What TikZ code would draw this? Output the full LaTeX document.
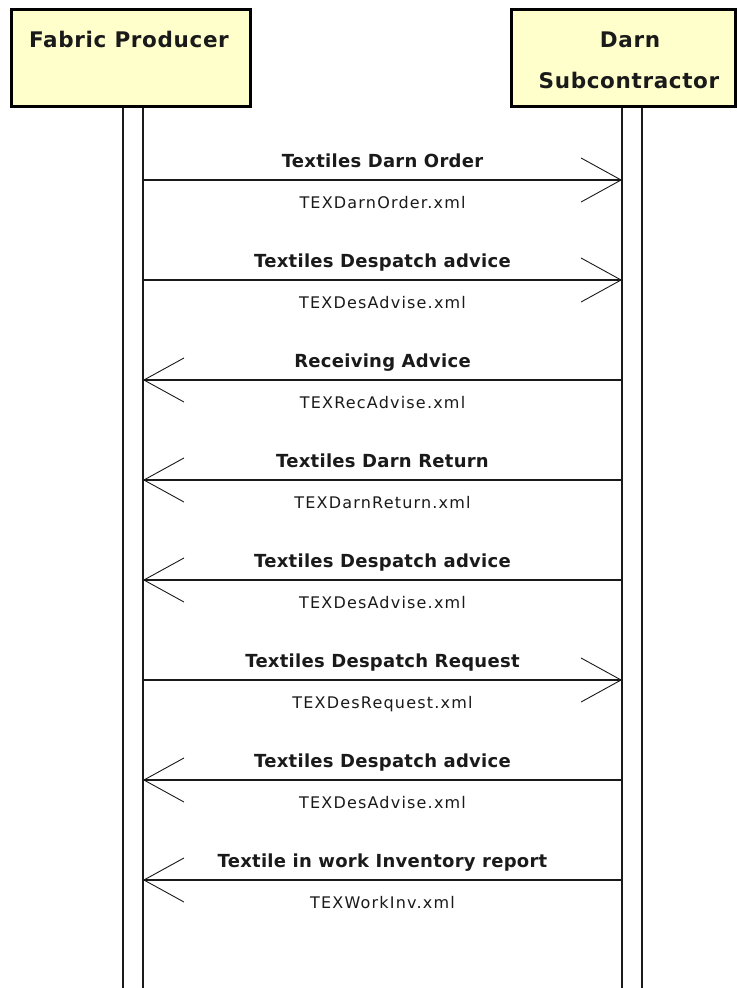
\documentclass[tikz,border=0pt]{standalone}
\usepackage{fontspec}
\setmainfont{DejaVu Sans}
\usetikzlibrary{arrows.meta}
\definecolor{actorfill}{HTML}{FFFFCC}
\definecolor{ink}{HTML}{1A1A1A}
\begin{document}
\begin{tikzpicture}[x=1pt,y=-1pt,
  actorbox/.style={draw=black,fill=actorfill,line width=3pt,inner sep=0pt,
    minimum height=97pt},
  lifeline/.style={draw=ink,line width=1.2pt},
  msg/.style={draw=ink,line width=1.6pt,
    -{Straight Barb[length=40pt,width=44pt,line width=0.9pt]}},
  msgname/.style={font=\fontsize{18}{20}\selectfont\bfseries\addfontfeatures{LetterSpace=1.5},
    text=ink,anchor=base,inner sep=0pt},
  msgfile/.style={font=\fontsize{16}{18}\selectfont\addfontfeatures{LetterSpace=7.5},
    text=ink,anchor=base,inner sep=0pt},
  actorname/.style={font=\fontsize{21.5}{24}\selectfont\bfseries\addfontfeatures{LetterSpace=3},
    text=ink,anchor=base,inner sep=0pt}]
\useasboundingbox (0,0) rectangle (738,988);
\fill[white] (0,0) rectangle (738,988);

% lifelines (double rails)
\coordinate (fpA) at (123,108); \coordinate (fpAe) at (123,988);
\coordinate (fpB) at (143,108); \coordinate (fpBe) at (143,988);
\coordinate (dsA) at (622,108); \coordinate (dsAe) at (622,988);
\coordinate (dsB) at (642,108); \coordinate (dsBe) at (642,988);
\draw[lifeline] (fpA) -- (fpAe);
\draw[lifeline] (fpB) -- (fpBe);
\draw[lifeline] (dsA) -- (dsAe);
\draw[lifeline] (dsB) -- (dsBe);

% actor boxes
\node[actorbox,minimum width=239pt] (fpbox) at (131,58) {};
\node[actorbox,minimum width=224pt] (dsbox) at (623.5,58) {};
\node[actorname] (fpname) at (129,47) {Fabric Producer};
\node[actorname] (dsname1) at (630,47) {Darn};
\node[actorname] (dsname2) at (629,88) {Subcontractor};

% messages
\foreach \i/\y/\a/\b/\name/\file in {
  1/180/l/r/Textiles Darn Order/TEXDarnOrder.xml,
  2/280/l/r/Textiles Despatch advice/TEXDesAdvise.xml,
  3/380/r/l/Receiving Advice/TEXRecAdvise.xml,
  4/480/r/l/Textiles Darn Return/TEXDarnReturn.xml,
  5/580/r/l/Textiles Despatch advice/TEXDesAdvise.xml,
  6/680/l/r/Textiles Despatch Request/TEXDesRequest.xml,
  7/780/r/l/Textiles Despatch advice/TEXDesAdvise.xml,
  8/880/r/l/Textile in work Inventory report/TEXWorkInv.xml}
{
  \coordinate (l\i) at (143,\y);
  \coordinate (r\i) at (622,\y);
  \draw[msg] (\a\i) -- (\b\i);
  \node[msgname] (n\i) at (382.5,\y-13) {\name};
  \node[msgfile] (f\i) at (382.5,\y+28) {\file};
}
\end{tikzpicture}
\end{document}
